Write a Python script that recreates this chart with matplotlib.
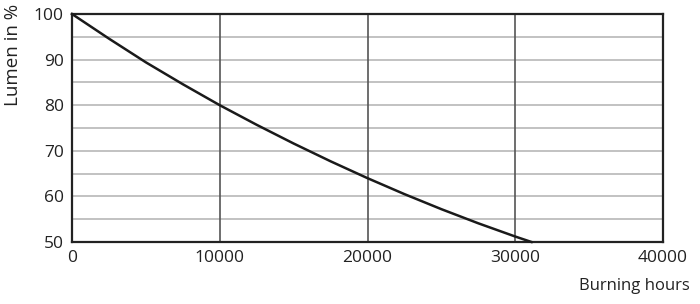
import matplotlib
matplotlib.use("Agg")
import matplotlib.pyplot as plt

plt.rcParams['font.family'] = ['Open Sans', 'DejaVu Sans']

hours = [0, 2500, 5000, 7500, 10000, 12500, 15000, 17500, 20000,
         22500, 25000, 27500, 30000, 31100]
lumen = [100, 94.6, 89.4, 84.6, 80, 75.7, 71.6, 67.7, 64,
         60.5, 57.2, 54.1, 51.2, 50]
xticks = [0, 10000, 20000, 30000, 40000]
yticks = [50, 60, 70, 80, 90, 100]

fig = plt.figure(figsize=(7, 3.04), dpi=100)
ax = fig.add_axes([72/700, 62/304, 591/700, 228/304])

# grid
for y in range(55, 100, 5):
    ax.axhline(y, color='#b8b8b8', lw=1.2, zorder=1)
for x in xticks[1:-1]:
    ax.axvline(x, color='#555555', lw=1.2, zorder=1)

ax.plot(hours, lumen, color='#1a1a1a', lw=1.8, zorder=3, clip_on=False)

ax.set_xlim(0, 40000)
ax.set_ylim(50, 100)
ax.set_xticks(xticks)
ax.set_yticks(yticks)
ax.tick_params(length=0, labelsize=12.5, colors='#222222', pad=6)
for s in ax.spines.values():
    s.set_linewidth(1.6)
    s.set_color('#222222')

fig.text(13/700, 1 - 4/304, 'Lumen in %', rotation=90, ha='center', va='top',
         fontsize=13.5, color='#222222')
fig.text(690/700, 1 - 286/304, 'Burning hours', ha='right', va='center',
         fontsize=12, color='#222222')

fig.savefig('out.png', dpi=100)
